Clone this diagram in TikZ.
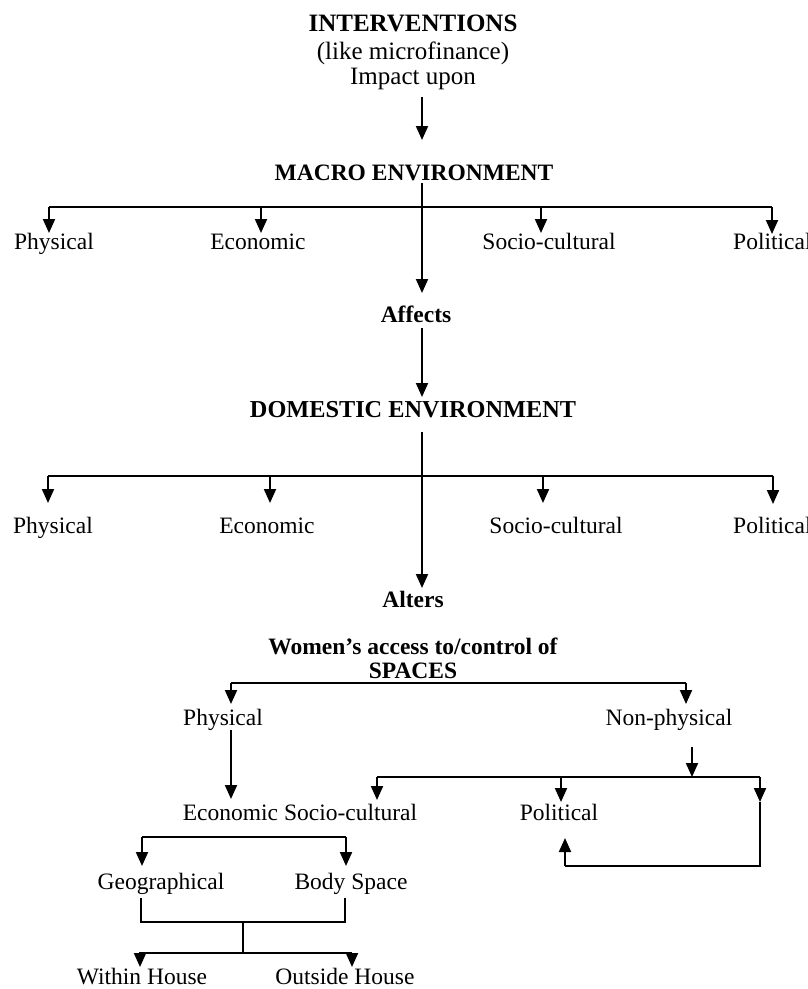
\documentclass[tikz,border=0pt]{standalone}
\usepackage{fontspec}
\setmainfont{Liberation Serif}
\usetikzlibrary{arrows.meta}
\begin{document}
\begin{tikzpicture}[x=1pt,y=-1pt,
  lbl/.style={inner sep=0pt, anchor=base, font=\fontsize{23.5}{28}\selectfont},
  blbl/.style={lbl, font=\fontsize{23.5}{28}\selectfont\bfseries},
  toplbl/.style={lbl, font=\fontsize{25}{30}\selectfont},
  ln/.style={line width=2pt},
  arr/.style={ln, -{Triangle[width=12pt,length=14pt]}}]
\useasboundingbox (0,0) rectangle (807,989);
\fill[white] (0,0) rectangle (807,989);

% ---- texts ----
\node[toplbl, font=\fontsize{25}{30}\selectfont\bfseries] (interv) at (413,31) {INTERVENTIONS};
\node[toplbl] (like) at (413,59) {(like microfinance)};
\node[toplbl] (impact) at (413,84) {Impact upon};
\node[blbl] (macro) at (414,180) {MACRO ENVIRONMENT};
\node[lbl] (mphys) at (54,249) {Physical};
\node[lbl] (mecon) at (258,249) {Economic};
\node[lbl] (msoc) at (549,249) {Socio-cultural};
\node[lbl, anchor=base west] (mpol) at (733,249) {Political};
\node[blbl] (affects) at (416,322) {Affects};
\node[blbl, font=\fontsize{24.3}{28}\selectfont\bfseries] (domestic) at (413,417) {DOMESTIC ENVIRONMENT};
\node[lbl] (dphys) at (53,533) {Physical};
\node[lbl] (decon) at (267,533) {Economic};
\node[lbl] (dsoc) at (556,533) {Socio-cultural};
\node[lbl, anchor=base west] (dpol) at (733,533) {Political};
\node[blbl] (alters) at (413,607) {Alters};
\node[blbl] (women) at (413,654) {Women’s access to/control of};
\node[blbl] (spaces) at (413,678) {SPACES};
\node[lbl] (sphys) at (223,725) {Physical};
\node[lbl] (snon) at (669,725) {Non-physical};
\node[lbl] (econsoc) at (300,820) {Economic Socio-cultural};
\node[lbl] (spol) at (559,820) {Political};
\node[lbl] (geo) at (161,889) {Geographical};
\node[lbl] (body) at (351,889) {Body Space};
\node[lbl] (within) at (142,984) {Within House};
\node[lbl] (outside) at (345,984) {Outside House};

% ---- junction coordinates ----
\coordinate (t1) at (422,97);  \coordinate (t2) at (422,140);
\coordinate (m0) at (422,183); \coordinate (m1) at (422,293);
\coordinate (mL) at (49,207);  \coordinate (mR) at (772,207);
\coordinate (mb2) at (261,207); \coordinate (mb3) at (541,207);
\coordinate (a0) at (422,328); \coordinate (a1) at (422,397);
\coordinate (d0) at (422,432); \coordinate (d1) at (422,588);
\coordinate (dL) at (48,476);  \coordinate (dR) at (773,476);
\coordinate (db2) at (270,476); \coordinate (db3) at (543,476);
\coordinate (sL) at (231,683); \coordinate (sR) at (686,683);
\coordinate (p0) at (231,730); \coordinate (p1) at (231,799);
\coordinate (n0) at (692,747); \coordinate (n1) at (692,777);
\coordinate (nL) at (377,777); \coordinate (nR) at (760,777);
\coordinate (nM) at (561,777);
\coordinate (lp0) at (760,802); \coordinate (lp1) at (760,866);
\coordinate (lp2) at (565,866); \coordinate (lp3) at (565,838);
\coordinate (gL) at (142,837); \coordinate (gR) at (346,837);
\coordinate (g1) at (141,898); \coordinate (g2) at (141,922);
\coordinate (g3) at (345,922); \coordinate (g4) at (345,898);
\coordinate (gM) at (243,922); \coordinate (gM2) at (243,953);
\coordinate (hL) at (139,953); \coordinate (hR) at (352,953);

% ---- connectors ----
\draw[arr] (t1) -- (t2);
\draw[arr] (m0) -- (m1);
\draw[ln] (mL) -- (mR);
\draw[arr] (mL) -- (49,233);
\draw[arr] (mb2) -- (261,233);
\draw[arr] (mb3) -- (541,233);
\draw[arr] (mR) -- (772,234);

\draw[arr] (a0) -- (a1);
\draw[arr] (d0) -- (d1);
\draw[ln] (dL) -- (dR);
\draw[arr] (dL) -- (48,503);
\draw[arr] (db2) -- (270,503);
\draw[arr] (db3) -- (543,503);
\draw[arr] (dR) -- (773,504);

\draw[ln] (sL) -- (sR);
\draw[arr] (sL) -- (231,704);
\draw[arr] (sR) -- (686,704);
\draw[arr] (p0) -- (p1);
\draw[arr] (n0) -- (n1);
\draw[ln] (nL) -- (nR);
\draw[arr] (nL) -- (377,800);
\draw[arr] (nM) -- (561,802);
\draw[arr] (nR) -- (lp0);
\draw[ln] (lp0) -- (lp1) -- (lp2);
\draw[arr] (lp2) -- (lp3);

\draw[ln] (gL) -- (gR);
\draw[arr] (gL) -- (142,866);
\draw[arr] (gR) -- (346,866);
\draw[ln] (g1) -- (g2) -- (g3) -- (g4);
\draw[ln] (gM) -- (gM2);
\draw[ln] (hL) -- (hR);
\draw[arr] (140,953) -- (140,967);
\draw[arr] (hR) -- (352,967);
\end{tikzpicture}
\end{document}
